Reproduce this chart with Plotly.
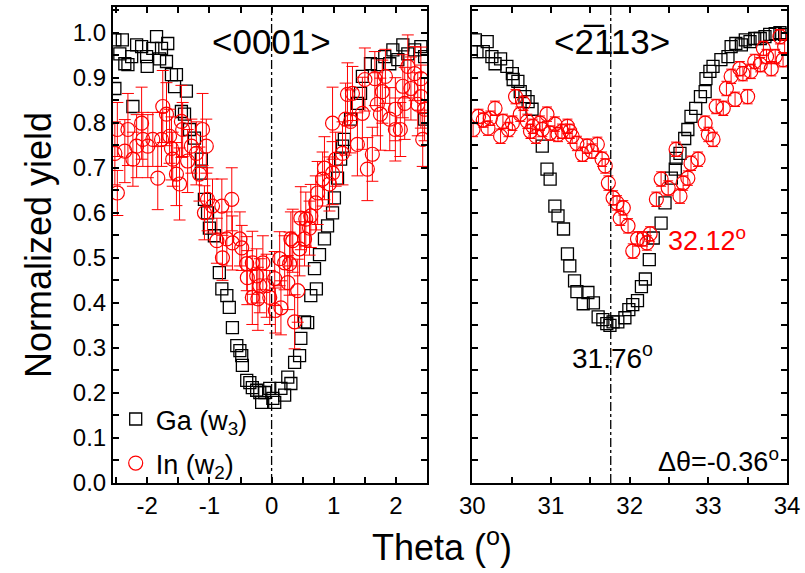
import plotly.graph_objects as go

# ---------------- data: <0001> scan ----------------
ga_theta_0001 = [-2.52, -2.52, -2.44, -2.40, -2.36, -2.31, -2.25, -2.23, -2.17, -2.09, -2.01, -2.00,
                 -1.91, -1.85, -1.80, -1.77, -1.69, -1.67, -1.61, -1.56, -1.53, -1.45, -1.40, -1.37,
                 -1.32, -1.24, -1.13, -1.13, -1.08, -1.03, -1.00, -0.92, -0.84, -0.80, -0.72, -0.68,
                 -0.63, -0.56, -0.51, -0.48, -0.47, -0.40, -0.35, -0.31, -0.24, -0.19, -0.16, -0.11,
                 -0.03, 0.02, 0.05, 0.15, 0.21, 0.26, 0.31, 0.37, 0.45, 0.47, 0.53, 0.58, 0.63, 0.69,
                 0.72, 0.77, 0.85, 0.90, 0.98, 1.01, 1.06, 1.11, 1.14, 1.17, 1.27, 1.38, 1.43, 1.46,
                 1.59, 1.70, 1.82, 1.90, 1.95, 2.03, 2.11, 2.19, 2.30, 2.40, 2.46, 2.46]
ga_yield_0001 = [0.984, 0.876, 0.953, 0.984, 0.931, 0.929, 0.947, 0.836, 0.973, 0.969, 0.947, 0.925,
                 0.965, 0.991, 0.942, 0.965, 0.936, 0.976, 0.907, 0.880, 0.907, 0.825, 0.819, 0.870,
                 0.785, 0.766, 0.719, 0.688, 0.630, 0.600, 0.566, 0.549, 0.467, 0.431, 0.416, 0.390,
                 0.345, 0.305, 0.294, 0.283, 0.261, 0.228, 0.223, 0.212, 0.206, 0.201, 0.179, 0.201,
                 0.210, 0.188, 0.179, 0.210, 0.195, 0.235, 0.221, 0.268, 0.283, 0.321, 0.358, 0.356,
                 0.416, 0.476, 0.431, 0.507, 0.542, 0.571, 0.600, 0.633, 0.677, 0.719, 0.748, 0.763,
                 0.808, 0.843, 0.865, 0.903, 0.931, 0.929, 0.947, 0.931, 0.962, 0.940, 0.973, 0.953,
                 0.962, 0.969, 0.947, 0.808]

in_theta_0001 = [-2.52, -2.48, -2.48, -2.36, -2.31, -2.23, -2.17, -2.09, -2.07, -1.99, -1.91, -1.83,
                 -1.77, -1.75, -1.69, -1.64, -1.61, -1.59, -1.53, -1.48, -1.45, -1.43, -1.35, -1.29,
                 -1.21, -1.16, -1.11, -1.08, -1.05, -1.03, -0.95, -0.88, -0.80, -0.79, -0.72, -0.64,
                 -0.63, -0.51, -0.48, -0.40, -0.39, -0.31, -0.31, -0.24, -0.22, -0.19, -0.14, -0.08,
                 -0.03, 0.05, 0.06, 0.13, 0.15, 0.21, 0.26, 0.29, 0.31, 0.34, 0.37, 0.42, 0.45, 0.47,
                 0.53, 0.55, 0.61, 0.63, 0.71, 0.74, 0.82, 0.85, 0.93, 0.98, 0.98, 1.03, 1.14, 1.19,
                 1.22, 1.27, 1.30, 1.38, 1.46, 1.50, 1.54, 1.62, 1.66, 1.70, 1.75, 1.78, 1.83, 1.90,
                 1.99, 1.99, 2.07, 2.11, 2.14, 2.19, 2.24, 2.30, 2.35, 2.40, 2.40, 2.43, 2.46]
in_yield_0001 = [0.732, 0.644, 0.785, 0.737, 0.785, 0.719, 0.748, 0.799, 0.763, 0.748, 0.763, 0.677,
                 0.763, 0.836, 0.819, 0.770, 0.743, 0.719, 0.686, 0.664, 0.803, 0.785, 0.715, 0.748,
                 0.732, 0.686, 0.785, 0.600, 0.748, 0.630, 0.615, 0.538, 0.615, 0.500, 0.542, 0.630,
                 0.533, 0.542, 0.522, 0.487, 0.456, 0.489, 0.412, 0.460, 0.409, 0.438, 0.489, 0.438,
                 0.412, 0.454, 0.383, 0.498, 0.389, 0.489, 0.445, 0.487, 0.542, 0.538, 0.358, 0.427,
                 0.520, 0.588, 0.542, 0.586, 0.566, 0.593, 0.622, 0.644, 0.675, 0.699, 0.664, 0.688,
                 0.799, 0.719, 0.732, 0.808, 0.863, 0.803, 0.865, 0.752, 0.821, 0.896, 0.697, 0.730,
                 0.898, 0.841, 0.819, 0.869, 0.903, 0.808, 0.830, 0.785, 0.785, 0.881, 0.843, 0.925,
                 0.876, 0.909, 0.841, 0.898, 0.858, 0.763, 0.830]
in_err_0001 = [0.07, 0.05, 0.06, 0.07, 0.08, 0.06, 0.07, 0.08, 0.06, 0.07, 0.06, 0.07,
               0.06, 0.08, 0.07, 0.06, 0.07, 0.06, 0.07, 0.08, 0.08, 0.06, 0.07, 0.06,
               0.07, 0.06, 0.08, 0.06, 0.06, 0.07, 0.06, 0.05, 0.06, 0.05, 0.06, 0.07,
               0.06, 0.06, 0.05, 0.06, 0.06, 0.07, 0.06, 0.06, 0.07, 0.06, 0.06, 0.07,
               0.06, 0.06, 0.05, 0.06, 0.06, 0.06, 0.06, 0.07, 0.06, 0.07, 0.06, 0.07,
               0.06, 0.07, 0.06, 0.06, 0.06, 0.07, 0.06, 0.07, 0.06, 0.07, 0.06, 0.07,
               0.08, 0.06, 0.07, 0.08, 0.07, 0.07, 0.06, 0.07, 0.08, 0.07, 0.07, 0.06,
               0.06, 0.07, 0.08, 0.07, 0.06, 0.07, 0.07, 0.07, 0.06, 0.07, 0.08, 0.07,
               0.07, 0.06, 0.07, 0.07, 0.07, 0.06, 0.07]

# ---------------- data: <-2113> scan ----------------
ga_theta_2113 = [30.04, 30.06, 30.14, 30.19, 30.25, 30.29, 30.36, 30.44, 30.51, 30.52, 30.58, 30.61,
                 30.67, 30.71, 30.76, 30.89, 30.95, 30.99, 31.05, 31.09, 31.16, 31.21, 31.24, 31.30,
                 31.33, 31.41, 31.47, 31.54, 31.60, 31.66, 31.71, 31.75, 31.79, 31.85, 31.94, 31.99,
                 32.04, 32.10, 32.15, 32.20, 32.25, 32.30, 32.40, 32.45, 32.53, 32.58, 32.59, 32.64,
                 32.70, 32.74, 32.78, 32.84, 32.90, 32.96, 32.97, 33.02, 33.06, 33.16, 33.25, 33.29,
                 33.35, 33.42, 33.47, 33.53, 33.59, 33.66, 33.72, 33.78, 33.85, 33.91, 33.97]
ga_yield_2113 = [0.984, 0.958, 0.958, 0.980, 0.947, 0.931, 0.942, 0.925, 0.909, 0.896, 0.892, 0.869,
                 0.858, 0.847, 0.830, 0.748, 0.697, 0.675, 0.615, 0.593, 0.564, 0.509, 0.482, 0.449,
                 0.425, 0.398, 0.423, 0.400, 0.369, 0.363, 0.354, 0.350, 0.358, 0.358, 0.367, 0.385,
                 0.396, 0.405, 0.436, 0.453, 0.496, 0.544, 0.577, 0.622, 0.677, 0.697, 0.721, 0.732,
                 0.765, 0.785, 0.814, 0.832, 0.858, 0.869, 0.898, 0.914, 0.925, 0.940, 0.947, 0.969,
                 0.976, 0.973, 0.984, 0.980, 0.987, 0.987, 0.991, 0.996, 0.998, 1.000, 0.996]

in_theta_2113 = [30.01, 30.08, 30.14, 30.20, 30.23, 30.29, 30.36, 30.39, 30.46, 30.51, 30.55, 30.61,
                 30.65, 30.70, 30.74, 30.77, 30.81, 30.86, 30.89, 30.95, 30.99, 31.05, 31.09, 31.14,
                 31.21, 31.24, 31.27, 31.33, 31.40, 31.46, 31.52, 31.59, 31.65, 31.69, 31.73, 31.79,
                 31.84, 31.88, 31.92, 31.98, 32.04, 32.10, 32.17, 32.22, 32.26, 32.34, 32.40, 32.49,
                 32.59, 32.64, 32.68, 32.74, 32.78, 32.87, 32.96, 33.00, 33.06, 33.10, 33.19, 33.23,
                 33.29, 33.34, 33.40, 33.44, 33.50, 33.54, 33.59, 33.66, 33.70, 33.74, 33.80, 33.85,
                 33.91, 33.95, 33.97]
in_yield_2113 = [0.785, 0.814, 0.806, 0.788, 0.810, 0.832, 0.770, 0.803, 0.785, 0.799, 0.858, 0.819,
                 0.843, 0.803, 0.781, 0.792, 0.770, 0.799, 0.785, 0.819, 0.777, 0.797, 0.774, 0.781,
                 0.792, 0.781, 0.770, 0.754, 0.730, 0.748, 0.737, 0.752, 0.719, 0.704, 0.666, 0.633,
                 0.622, 0.588, 0.611, 0.571, 0.515, 0.542, 0.542, 0.533, 0.553, 0.630, 0.675, 0.655,
                 0.741, 0.637, 0.666, 0.677, 0.710, 0.719, 0.799, 0.774, 0.763, 0.836, 0.832, 0.876,
                 0.903, 0.852, 0.920, 0.909, 0.858, 0.914, 0.936, 0.929, 0.965, 0.947, 0.920, 0.947,
                 0.991, 0.940, 0.969]
in_err_2113 = [0.016] * len(in_yield_2113)

# ---------------- tick labels ----------------
x_tickvals_0001 = [-2, -1, 0, 1, 2]
x_ticktext_0001 = ["-2", "-1", "0", "1", "2"]

# ---------------- text ----------------
label_0001 = "<0001>"
label_2113 = "<2\u0305113>"
label_in_min = "32.12<sup>o</sup>"
label_ga_min = "31.76<sup>o</sup>"
label_delta = "\u0394\u03b8=-0.36<sup>o</sup>"
ga_min_2113 = 31.76

FONT = "Liberation Sans Narrow, Arial Narrow, Liberation Sans, Arial, sans-serif"
FONT_W = "Liberation Sans, Arial, sans-serif"
RED = "#ff0000"

fig = go.Figure()

sq = dict(symbol="square-open", size=12, color="black", line=dict(width=1.3, color="black"))
ci = dict(symbol="circle-open", size=14, color=RED, line=dict(width=1.2, color=RED))

fig.add_trace(go.Scatter(x=ga_theta_0001, y=ga_yield_0001, mode="markers", marker=sq,
                         name="Ga (w<sub>3</sub>)", legendgroup="ga", xaxis="x", yaxis="y"))
fig.add_trace(go.Scatter(x=in_theta_0001, y=in_yield_0001, mode="markers", marker=ci,
                         error_y=dict(type="data", array=in_err_0001, color=RED, thickness=1, width=6),
                         name="In (w<sub>2</sub>)", legendgroup="in", xaxis="x", yaxis="y"))
fig.add_trace(go.Scatter(x=ga_theta_2113, y=ga_yield_2113, mode="markers", marker=sq,
                         showlegend=False, xaxis="x2", yaxis="y2"))
fig.add_trace(go.Scatter(x=in_theta_2113, y=in_yield_2113, mode="markers", marker=ci,
                         error_y=dict(type="data", array=in_err_2113, color=RED, thickness=1, width=5),
                         showlegend=False, xaxis="x2", yaxis="y2"))

axis_common = dict(showline=True, linecolor="black", linewidth=2, mirror="allticks",
                   ticks="inside", ticklen=6, tickwidth=1.5, tickcolor="black",
                   showgrid=False, zeroline=False,
                   tickfont=dict(family=FONT, size=24, color="black"))

fig.update_layout(
    width=805, height=573,
    margin=dict(l=113, r=18, t=5, b=90),
    paper_bgcolor="white", plot_bgcolor="white",
    font=dict(family=FONT, color="black"),
    xaxis=dict(domain=[0, 0.466], range=[-2.55, 2.5], tickmode="array",
               tickvals=x_tickvals_0001, ticktext=x_ticktext_0001,
               minor=dict(ticks="inside", ticklen=6, dtick=0.5, tick0=0, tickcolor="black", tickwidth=1.5),
               **axis_common),
    xaxis2=dict(domain=[0.533, 1], range=[30, 34], tick0=30, dtick=1, anchor="y2",
                minor=dict(ticks="inside", ticklen=6, dtick=0.5, tick0=30, tickcolor="black", tickwidth=1.5),
                **axis_common),
    yaxis=dict(range=[0, 1.057], tick0=0, dtick=0.1, tickformat=".1f",
               minor=dict(ticks="inside", ticklen=6, dtick=0.05, tick0=0, tickcolor="black", tickwidth=1.5),
               title=dict(text="Normalized yield", font=dict(family=FONT_W, size=36), standoff=10),
               **axis_common),
    yaxis2=dict(range=[0, 1.057], tick0=0, dtick=0.1, anchor="x2", matches="y", showticklabels=False,
                minor=dict(ticks="inside", ticklen=6, dtick=0.05, tick0=0, tickcolor="black", tickwidth=1.5),
                **axis_common),
    legend=dict(x=0.004, y=0.185, xanchor="left", yanchor="top", bgcolor="rgba(0,0,0,0)",
                font=dict(family=FONT, size=27), tracegroupgap=6, traceorder="grouped",
                itemwidth=30),
    showlegend=True,
)

fig.add_shape(type="line", xref="x", yref="y domain", x0=0, x1=0, y0=0, y1=1,
              line=dict(color="black", width=1.3, dash="dashdot"))
fig.add_shape(type="line", xref="x2", yref="y2 domain", x0=ga_min_2113, x1=ga_min_2113, y0=0, y1=1,
              line=dict(color="black", width=1.3, dash="dashdot"))

fig.add_annotation(x=0, y=0.98, xref="x", yref="y", text=label_0001, showarrow=False,
                   font=dict(family=FONT_W, size=35, color="black"), xanchor="center", yanchor="middle")
fig.add_annotation(x=31.78, y=0.98, xref="x2", yref="y2", text=label_2113, showarrow=False,
                   font=dict(family=FONT_W, size=35, color="black"), xanchor="center", yanchor="middle")
fig.add_annotation(x=32.46, y=0.542, xref="x2", yref="y2", text=label_in_min, showarrow=False,
                   font=dict(family=FONT_W, size=27, color=RED), xanchor="left", yanchor="middle")
fig.add_annotation(x=31.78, y=0.283, xref="x2", yref="y2", text=label_ga_min, showarrow=False,
                   font=dict(family=FONT_W, size=28, color="black"), xanchor="center", yanchor="middle")
fig.add_annotation(x=33.93, y=0.05, xref="x2", yref="y2", text=label_delta, showarrow=False,
                   font=dict(family=FONT_W, size=27, color="black"), xanchor="right", yanchor="middle")
fig.add_annotation(x=0.488, y=-0.13, xref="paper", yref="paper", text="Theta (<sup>o</sup>)",
                   showarrow=False, font=dict(family=FONT_W, size=36, color="black"),
                   xanchor="center", yanchor="middle")

fig.write_html("out.html", config={"displayModeBar": False},
               post_script="document.body.style.margin='0';document.body.style.overflow='hidden';")
